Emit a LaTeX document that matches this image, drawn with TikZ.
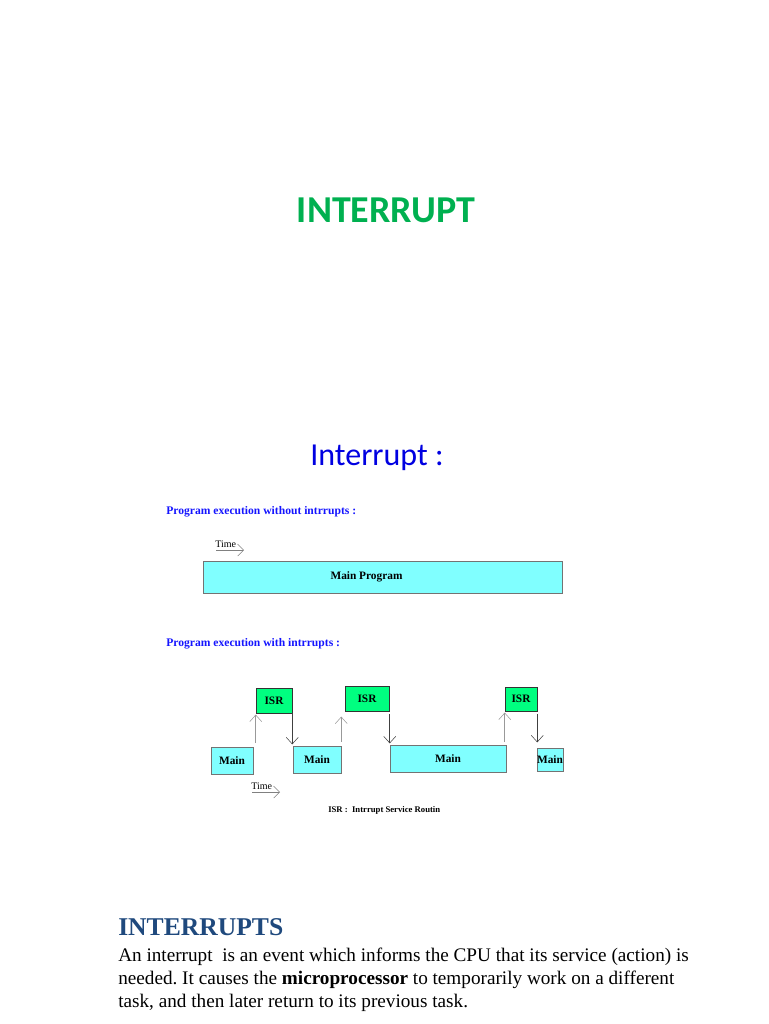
\documentclass[tikz,border=0pt]{standalone}
\usepackage{fontspec}
\setmainfont{Liberation Serif}
\newfontfamily\slidefont{Carlito}
\usetikzlibrary{arrows.meta, positioning}
\definecolor{titlegreen}{RGB}{0,176,80}
\definecolor{slideblue}{RGB}{0,0,225}
\definecolor{labelblue}{RGB}{20,20,255}
\definecolor{headblue}{RGB}{31,73,125}
\definecolor{maincyan}{RGB}{128,255,255}
\definecolor{isrgreen}{RGB}{0,255,128}
\tikzset{
  mainbox/.style={
    rectangle, draw=black!55, fill=maincyan, inner sep=0pt,
    font=\fontsize{8.5}{10}\selectfont\bfseries
  },
  isrbox/.style={
    rectangle, draw=black!80, fill=isrgreen, inner sep=0pt,
    font=\fontsize{8.5}{10}\selectfont\bfseries
  },
  caption/.style={
    anchor=west, inner sep=0pt, text=labelblue,
    font=\fontsize{8.7}{10}\selectfont\bfseries
  },
  timelabel/.style={anchor=west, inner sep=0pt, font=\fontsize{7.5}{9}\selectfont},
  uparrow/.style={-{Straight Barb[length=5pt, width=9pt]}, draw=black!40},
  downarrow/.style={-{Straight Barb[length=5pt, width=9pt]}, draw=black!75},
  timearrow/.style={-{Straight Barb[length=4.5pt, width=9pt]}, draw=black!50}
}

\begin{document}
\frenchspacing
\begin{tikzpicture}[x=0.75pt, y=-0.75pt]
  \useasboundingbox (0,0) rectangle (768,1024);

  % slide titles
  \node[text=titlegreen, font=\slidefont\fontsize{28.5}{32}\selectfont\bfseries] (title) at (386,210) {INTERRUPT};
  \node[text=slideblue, font=\slidefont\fontsize{24}{28}\selectfont] (subtitle) at (377,458) {Interrupt :};

  % without interrupts
  \node[caption] (capno) at (166,512) {Program execution without intrrupts :};
  \node[timelabel] (time1) at (215,544) {Time};
  \coordinate (t1s) at (216,550);
  \coordinate (t1e) at (244,550);
  \draw[timearrow] (t1s) -- (t1e);
  \node[mainbox, minimum width=269.25pt, minimum height=24pt] (mainprog) at (382.5,577) {Main Program\hspace*{24pt}};

  % with interrupts
  \node[caption] (capwith) at (166,644) {Program execution with intrrupts :};

  \node[isrbox, minimum width=27pt, minimum height=18.75pt] (isr1) at (274,700.5) {ISR};
  \node[isrbox, minimum width=33pt, minimum height=18.75pt] (isr2) at (367,698.5) {ISR};
  \node[isrbox, minimum width=24pt, minimum height=18pt] (isr3) at (521,699) {ISR};

  \node[mainbox, minimum width=31.5pt, minimum height=20.25pt] (main1) at (232,760.5) {Main};
  \node[mainbox, minimum width=36pt, minimum height=20.25pt] (main2) at (317,759.5) {Main};
  \node[mainbox, minimum width=87pt, minimum height=20.25pt] (main3) at (448,758.5) {Main};
  \node[mainbox, minimum width=18pt, minimum height=17.25pt] (main4) at (550,759.5) {Main};

  \draw[uparrow, shorten <=3pt, shorten >=1pt] (isr1.south west |- main1.north) -- (isr1.south west);
  \draw[downarrow, shorten >=1pt] (isr1.south east) -- (isr1.south east |- main2.north);
  \draw[uparrow, shorten <=3pt, shorten >=4pt] (main2.north east) -- (main2.north east |- isr2.south);
  \draw[downarrow, shorten <=2pt, shorten >=1pt] (main3.north west |- isr2.south) -- (main3.north west);
  \draw[uparrow, shorten <=2pt, shorten >=1pt] (isr3.south west |- main3.north) -- (isr3.south west);
  \draw[downarrow, shorten <=2pt, shorten >=4pt] (isr3.south east) -- (isr3.south east |- main4.north);

  \node[timelabel] (time2) at (251,786) {Time};
  \coordinate (t2s) at (252,792);
  \coordinate (t2e) at (280,792);
  \draw[timearrow] (t2s) -- (t2e);
  \node[timelabel, font=\fontsize{6.5}{8}\selectfont\bfseries] (legend) at (328,810) {ISR :\ \ Intrrupt Service Routin};

  % text block
  \node[anchor=west, inner sep=0pt, text=headblue, font=\fontsize{19.2}{22}\selectfont\bfseries] (heading) at (118,927) {INTERRUPTS};
  \node[anchor=north west, inner sep=0pt, align=left, font=\fontsize{14.4}{17.25}\selectfont] (body) at (118,948)
    {An interrupt\ \ is an event which informs the CPU that its service (action) is\\
     needed. It causes the \textbf{microprocessor} to temporarily work on a different\\
     task, and then later return to its previous task.};
\end{tikzpicture}
\end{document}
